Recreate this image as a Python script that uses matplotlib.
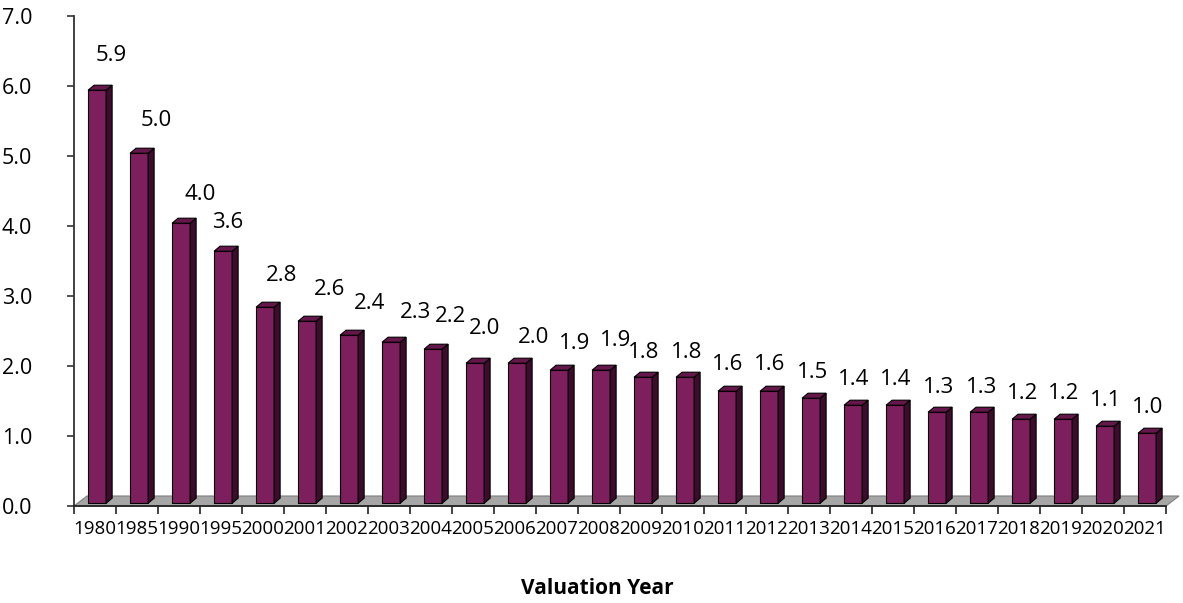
import numpy as np
import matplotlib.pyplot as plt
from matplotlib.patches import Polygon

years = ['1980', '1985', '1990', '1995', '2000', '2001', '2002', '2003', '2004',
         '2005', '2006', '2007', '2008', '2009', '2010', '2011', '2012', '2013',
         '2014', '2015', '2016', '2017', '2018', '2019', '2020', '2021']
ratios = [5.9, 5.0, 4.0, 3.6, 2.8, 2.6, 2.4, 2.3, 2.2, 2.0, 2.0, 1.9, 1.9,
          1.8, 1.8, 1.6, 1.6, 1.5, 1.4, 1.4, 1.3, 1.3, 1.2, 1.2, 1.1, 1.0]

# where each value label sits relative to its bar top (pixels)
label_shift = [14, 17, 19, 5, 16, 22, 20, 24, 17, 9, 16, 16, 15,
               1, 2, 1, 1, 1, 1, 1, 1, 2, 2, 1, 1, 1]
label_rise = [35, 33, 29, 29, 32, 32, 32, 30, 33, 35, 26, 27, 30,
              25, 25, 27, 27, 26, 26, 26, 25, 25, 26, 26, 26, 26]

front = '#7d1f5d'
side = '#3d0b2c'
top = '#65174b'

plt.rcParams['font.family'] = 'Open Sans'

fig = plt.figure(figsize=(11.83, 6.03), dpi=100)
ax = fig.add_axes([74/1183, 97/603, 1092/1183, 490/603])
ax.set_xlim(-0.5, 25.5)
ax.set_ylim(0, 7)

# pixel -> data scale for the fake 3d depth
px_x = 1.0 / 42
px_y = 7.0 / 490

# grey floor
fdx, fdy = 13 * px_x, 10 * px_y
floor = Polygon([(-0.5, 0), (25.5, 0), (25.5 + fdx, fdy), (-0.5 + fdx, fdy)],
                closed=True, facecolor='#a6a6a6', edgecolor='#7f7f7f',
                lw=0.8, zorder=1, clip_on=False)
ax.add_patch(floor)

x = np.arange(len(years))
bars = ax.bar(x + 0.05, ratios, width=0.43, bottom=0.04, color=front,
              edgecolor='black', linewidth=0.8, zorder=3)

ddx, ddy = 6 * px_x, 5 * px_y
for rect, v, sx, ry in zip(bars, ratios, label_shift, label_rise):
    x0 = rect.get_x()
    x1 = x0 + rect.get_width()
    y0 = rect.get_y()
    y1 = y0 + rect.get_height()
    ax.add_patch(Polygon([(x1, y0), (x1 + ddx, y0 + ddy), (x1 + ddx, y1 + ddy), (x1, y1)],
                         closed=True, facecolor=side, edgecolor='black',
                         lw=0.8, zorder=3, clip_on=False))
    ax.add_patch(Polygon([(x0, y1), (x1, y1), (x1 + ddx, y1 + ddy), (x0 + ddx, y1 + ddy)],
                         closed=True, facecolor=top, edgecolor='black',
                         lw=0.8, zorder=3, clip_on=False))
    ax.annotate(f'{v:.1f}', xy=((x0 + x1) / 2, y1), xytext=(sx, ry),
                textcoords='offset pixels', ha='center', va='center',
                fontsize=16, color='black', zorder=5)

for s in ['top', 'right']:
    ax.spines[s].set_visible(False)
ax.spines['left'].set_color('#333333')
ax.spines['bottom'].set_color('#222222')
ax.spines['left'].set_linewidth(1.3)
ax.spines['bottom'].set_linewidth(1.3)

ax.set_yticks(np.arange(0, 7.1, 1.0))
ax.set_yticklabels([f'{t:.1f}' for t in np.arange(0, 7.1, 1.0)], fontsize=15.5)
ax.tick_params(axis='y', direction='out', length=5, width=1.2, pad=25, color='#333333')

ax.set_xticks(x)
ax.set_xticklabels(years, fontsize=13.5)
ax.set_xticks(np.arange(-0.5, 26, 1.0), minor=True)
ax.tick_params(axis='x', which='major', length=0, pad=10)
ax.tick_params(axis='x', which='minor', direction='out', length=6, width=1.2, color='#222222')

fig.text(597 / 1183, 1 - 588 / 603, 'Valuation Year', ha='center', va='center',
         fontsize=15, fontweight='bold')

fig.savefig('out.png', dpi=100)
